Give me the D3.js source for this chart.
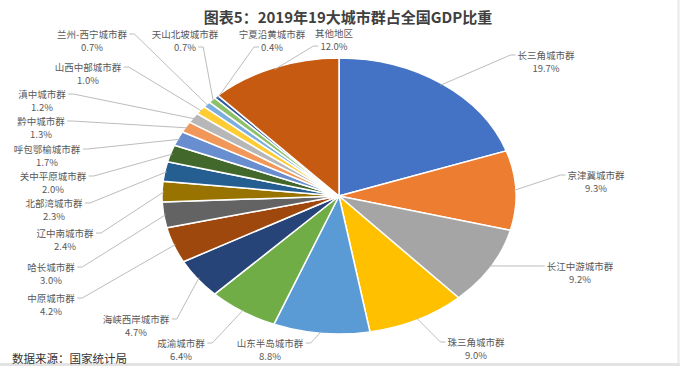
<!DOCTYPE html>
<html><head><meta charset="utf-8">
<script src="https://cdn.jsdelivr.net/npm/d3@7/dist/d3.min.js"></script>
<style>
html,body{margin:0;padding:0;background:#fff;}
svg{display:block;font-family:"Noto Sans CJK SC","Noto Sans",sans-serif;}
</style></head><body>
<svg id="chart" width="680" height="368"></svg>
<script>
const categories = ["长三角城市群","京津冀城市群","长江中游城市群","珠三角城市群","山东半岛城市群","成渝城市群","海峡西岸城市群","中原城市群","哈长城市群","辽中南城市群","北部湾城市群","关中平原城市群","呼包鄂榆城市群","黔中城市群","滇中城市群","山西中部城市群","兰州-西宁城市群","天山北坡城市群","宁夏沿黄城市群","其他地区"];
const values = [19.7,9.3,9.2,9.0,8.8,6.4,4.7,4.2,3.0,2.4,2.3,2.0,1.7,1.3,1.2,1.0,0.7,0.7,0.4,12.0];
const colors = ["#4472C4","#ED7D31","#A5A5A5","#FFC000","#5B9BD5","#70AD47","#264478","#9E480E","#636363","#997300","#255E91","#43682B","#698ED0","#F1975A","#B7B7B7","#FFCD33","#7CAFDD","#8CC168","#335AA1","#C65A11"];
// label layout: center x, name baseline-ish y, attach side, attach line
const labelPos = [
 [546,59,"L",0],[596,179,"L",0],[580,270,"L",0],[476,346,"L",0],[270,347,"R",0],
 [181,347,"R",0],[136,323,"R",0],[51,302,"R",0],[51,271,"R",0],[65,237,"R",0],
 [54,207,"R",0],[53,180,"R",0],[47,153,"R",0],[41,125,"R",0],[42,98,"R",0],
 [88,71,"R",0],[92,38,"R",0],[185,38,"R",1],[272,38,"L",1],[334,37,"L",1]
];
const title = "图表5：2019年19大城市群占全国GDP比重";
const source = "数据来源：国家统计局";

const svg = d3.select("#chart");
const cx = 339, cy = 196, rx = 177, ry = 138;

// frame
svg.append("line").attr("x1",0).attr("x2",680).attr("y1",364.5).attr("y2",364.5).attr("stroke","#e3e3e3").attr("stroke-width",3);
svg.append("line").attr("x1",678.5).attr("x2",678.5).attr("y1",0).attr("y2",364).attr("stroke","#e8e8e8").attr("stroke-width",2);

const data = categories.map((c,i)=>({name:c,value:values[i],color:colors[i],pos:labelPos[i]}));
const pie = d3.pie().value(d=>d.value).sort(null);
const arcs = pie(data);
const arc = d3.arc().innerRadius(0).outerRadius(ry);

const g = svg.append("g").attr("transform",`translate(${cx},${cy}) scale(${rx/ry},1)`);
g.selectAll("path").data(arcs).join("path")
 .attr("d",arc).attr("fill",d=>d.data.color)
 .attr("stroke","#fff").attr("stroke-width",1.5).attr("vector-effect","non-scaling-stroke");

// labels
const lg = svg.append("g");
arcs.forEach(a=>{
  const [x,y,side,line] = a.data.pos;
  const t1 = lg.append("text").attr("x",x).attr("y",y).attr("text-anchor","middle")
    .attr("font-size",9.5).attr("fill","#595959").text(a.data.name);
  const t2 = lg.append("text").attr("x",x).attr("y",y+13).attr("text-anchor","middle")
    .attr("font-size",9.5).attr("fill","#595959").text(a.data.value.toFixed(1)+"%");
  const bb = (line===0?t1:t2).node().getBBox();
  const ay = bb.y + bb.height/2;
  const ax = side==="L" ? bb.x-2 : bb.x+bb.width+2;
  const ax2 = side==="L" ? ax-5 : ax+5;
  const m = (a.startAngle+a.endAngle)/2;
  const ex = cx + (rx-2)*Math.sin(m), ey = cy - (ry-2)*Math.cos(m);
  lg.append("polyline").attr("points",`${ax},${ay} ${ax2},${ay} ${ex},${ey}`)
    .attr("fill","none").attr("stroke","#b4b4b4").attr("stroke-width",0.9);
});

svg.append("text").attr("x",348).attr("y",23).attr("text-anchor","middle")
 .attr("font-size",15).attr("font-weight","bold").attr("fill","#404040").text(title);
svg.append("text").attr("x",12).attr("y",363).attr("font-size",11.5).attr("fill","#333").text(source);
</script>
</body></html>
